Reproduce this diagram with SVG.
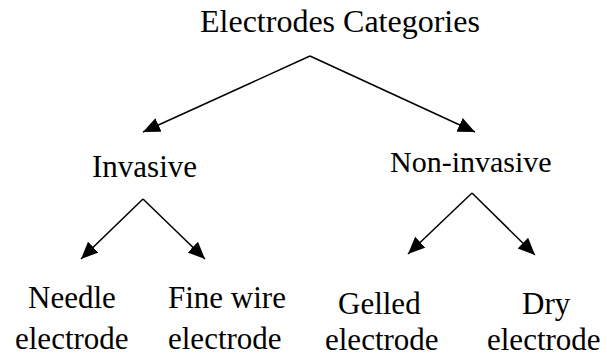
<svg xmlns="http://www.w3.org/2000/svg" width="607" height="358" viewBox="0 0 607 358">
  <defs>
    <marker id="arrow" markerUnits="userSpaceOnUse" markerWidth="18" markerHeight="16" refX="17" refY="7.5" orient="auto">
      <path d="M0,0 L17,7.5 L0,15 z" fill="#000"/>
    </marker>
    <style>
      text { font-family: "Liberation Serif", "Times New Roman", serif; fill: #000; }
      .t32 { font-size: 32px; }
      .t31 { font-size: 31px; }
      .t30 { font-size: 30px; }
      .link { stroke: #000; stroke-width: 1.5; fill: none; marker-end: url(#arrow); }
    </style>
  </defs>
  <rect width="607" height="358" fill="#fff"/>

  <g id="connectors">
    <line class="link" x1="310" y1="56" x2="143" y2="132"/>
    <line class="link" x1="310" y1="56" x2="475" y2="132"/>
    <line class="link" x1="143" y1="199" x2="81" y2="259"/>
    <line class="link" x1="143" y1="199" x2="205" y2="259"/>
    <line class="link" x1="472" y1="193" x2="408" y2="254"/>
    <line class="link" x1="472" y1="193" x2="535" y2="255"/>
  </g>

  <g id="root">
    <text class="t32" x="200" y="32">Electrodes Categories</text>
  </g>
  <g id="invasive">
    <text class="t31" x="92" y="177">Invasive</text>
  </g>
  <g id="non-invasive">
    <text class="t30" x="390" y="172">Non-invasive</text>
  </g>
  <g id="needle">
    <text class="t31" x="28" y="308">Needle</text>
    <text class="t31" x="15" y="349">electrode</text>
  </g>
  <g id="fine-wire">
    <text class="t31" x="168" y="308">Fine wire</text>
    <text class="t31" x="168" y="349">electrode</text>
  </g>
  <g id="gelled">
    <text class="t31" x="338" y="314">Gelled</text>
    <text class="t31" x="325" y="350">electrode</text>
  </g>
  <g id="dry">
    <text class="t31" x="522" y="314">Dry</text>
    <text class="t31" x="487" y="350">electrode</text>
  </g>
</svg>
